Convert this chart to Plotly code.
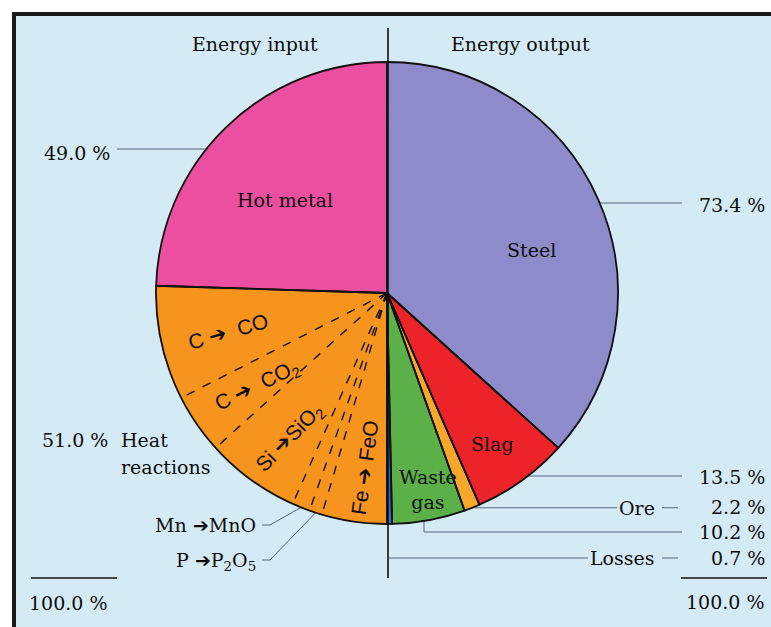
import math
import plotly.graph_objects as go

# ---- data -------------------------------------------------------------
output_labels = ["Steel", "Slag", "Ore", "Waste gas", "Losses"]
output_pct = [73.4, 13.5, 2.2, 10.2, 0.7]

reaction_labels = ["Fe → FeO", "P → P2O5", "Mn → MnO", "Si → SiO2", "C → CO2", "C → CO"]
reaction_pct = [9.1, 1.8, 2.5, 13.2, 8.4, 16.0]

hot_metal_label = "Hot metal"
hot_metal_pct = 49.0

# ---- styling ----------------------------------------------------------
W, H = 771, 627
CX, CY, R = 387, 293, 231          # pie centre and radius in pixels

output_colors = ["#8e8bcb", "#ec2328", "#f8a72a", "#5bb048", "#2f6ed8"]
reaction_color = "#f7941e"
hot_metal_color = "#ec4f9f"
bg_color = "#d4ebf5"
leader_color = "#56657c"

SERIF = "DejaVu Serif, Liberation Serif, serif"
SANS = "Liberation Sans, Arial, sans-serif"

labels_all = output_labels + reaction_labels + [hot_metal_label]
values_all = output_pct + reaction_pct + [hot_metal_pct]
colors_all = output_colors + [reaction_color] * len(reaction_pct) + [hot_metal_color]
TOTAL = sum(values_all)

heat_total = sum(reaction_pct)
output_total = sum(output_pct)
input_total = heat_total + hot_metal_pct

pie_domain = dict(x=[(CX - R) / W, (CX + R) / W],
                  y=[1 - (CY + R) / H, 1 - (CY - R) / H])


def point_at(cum, r=R):
    """Pixel position on the pie at a cumulative value (clockwise from 12 o'clock)."""
    t = math.radians(cum / TOTAL * 360.0)
    return CX + r * math.sin(t), CY - r * math.cos(t)


def arc_x(y, side):
    return CX + side * math.sqrt(R * R - (CY - y) ** 2)


fig = go.Figure()

# filled slices (outline in the slice colour so neighbouring reactions merge)
fig.add_trace(go.Pie(
    labels=labels_all, values=values_all, sort=False,
    direction="clockwise", rotation=0,
    marker=dict(colors=colors_all, line=dict(color=colors_all, width=1)),
    textinfo="none", hoverinfo="label+value", domain=pie_domain,
    showlegend=False,
))

# black outlines of the main groups
group_labels = output_labels + ["Heat reactions", hot_metal_label]
group_values = output_pct + [heat_total, hot_metal_pct]
fig.add_trace(go.Pie(
    labels=group_labels, values=group_values, sort=False,
    direction="clockwise", rotation=0,
    marker=dict(colors=["rgba(0,0,0,0)"] * len(group_values),
                line=dict(color="#111111", width=1.8)),
    textinfo="none", hoverinfo="skip", domain=pie_domain,
    showlegend=False,
))

shapes = []
# frame and background
shapes.append(dict(type="rect", xref="x", yref="y", x0=14, y0=14, x1=W + 10, y1=H + 10,
                   fillcolor=bg_color, line=dict(color="#1a1a1a", width=4), layer="below"))
# input/output divider
shapes.append(dict(type="line", xref="x", yref="y", x0=CX + 1, y0=28, x1=CX + 1, y1=578,
                   line=dict(color="#111111", width=1.6), layer="above"))
# dashed separators between the heat reactions
cum = output_total
for v in reaction_pct[:-1]:
    cum += v
    px, py = point_at(cum)
    shapes.append(dict(type="line", xref="x", yref="y", x0=CX, y0=CY, x1=px, y1=py,
                       line=dict(color="#111111", width=1.4, dash="dash"), layer="above"))
# total rules
shapes.append(dict(type="line", xref="x", yref="y", x0=31, y0=578, x1=117, y1=578,
                   line=dict(color="#111111", width=1.6)))
shapes.append(dict(type="line", xref="x", yref="y", x0=681, y0=578, x1=767, y1=578,
                   line=dict(color="#111111", width=1.6)))


def leader(xs, ys):
    fig.add_trace(go.Scatter(x=xs, y=ys, mode="lines", hoverinfo="skip",
                             line=dict(color=leader_color, width=1), showlegend=False))


# cumulative mid-points of slices
def mid_of(index):
    return sum(values_all[:index]) + values_all[index] / 2


# left leaders
leader([117, arc_x(149, -1)], [149, 149])
mn_x, mn_y = point_at(mid_of(len(output_pct) + 2))
leader([262, 270, mn_x], [525, 525, mn_y])
p_x, p_y = point_at(mid_of(len(output_pct) + 1))
leader([262, 270, p_x], [560, 560, p_y])

# right leaders
leader([arc_x(203, 1), 682], [203, 203])
leader([arc_x(476, 1), 682], [476, 476])
ore_x, ore_y = point_at(mid_of(2))
leader([ore_x, 617], [ore_y, ore_y])
leader([662, 678], [ore_y, ore_y])
wg_x = 424
leader([wg_x, wg_x, 682], [CY + math.sqrt(R * R - (wg_x - CX) ** 2), 532, 532])
leader([CX + 2, 588], [558, 558])
leader([662, 678], [558, 558])

ann = []


def text(x, y, s, size=19, xanchor="center", font=SERIF, angle=0):
    ann.append(dict(x=x, y=y, xref="x", yref="y", text=s, showarrow=False,
                    xanchor=xanchor, yanchor="middle", textangle=angle,
                    font=dict(family=font, size=size, color="#0d0d0d")))


def pct(v):
    return f"{v:.1f} %"


# headings
text(255, 44, "Energy input")
text(520, 44, "Energy output")

# left side labels
text(112, 153, pct(hot_metal_pct), xanchor="right")
text(110, 440, pct(heat_total), xanchor="right")
text(119, 440, "Heat", xanchor="left")
text(119, 467, "reactions", xanchor="left")
text(258, 525, "Mn ➔MnO", xanchor="right")
text(258, 561, "P ➔P<sub>2</sub>O<sub>5</sub>", xanchor="right")
text(110, 603, pct(input_total), xanchor="right")

# right side labels
text(767, 205, pct(output_pct[0]), xanchor="right")
text(767, 477, pct(output_pct[1]), xanchor="right")
text(657, 508, "Ore", xanchor="right")
text(767, 507, pct(output_pct[2]), xanchor="right")
text(767, 532, pct(output_pct[3]), xanchor="right")
text(657, 558, "Losses", xanchor="right")
text(767, 558, pct(output_pct[4]), xanchor="right")
text(767, 602, pct(output_total), xanchor="right")

# slice labels
text(285, 200, hot_metal_label)
text(531, 250, "Steel")
text(492, 444, "Slag")
text(428, 489, "Waste<br>gas")

# heat reaction labels along the wedges
text(228, 331, "C ➔  CO", size=21, font=SANS, angle=-16)
text(257, 386, "C ➔  CO<sub>2</sub>", size=21, font=SANS, angle=-26)
text(290, 438, "Si ➔SiO<sub>2</sub>", size=21, font=SANS, angle=-46)
text(364, 468, "Fe ➔ FeO", size=21, font=SANS, angle=-82)

fig.update_layout(
    width=W, height=H,
    margin=dict(l=0, r=0, t=0, b=0, pad=0),
    paper_bgcolor="white", plot_bgcolor="rgba(0,0,0,0)",
    xaxis=dict(range=[0, W], visible=False, fixedrange=True),
    yaxis=dict(range=[H, 0], visible=False, fixedrange=True),
    shapes=shapes, annotations=ann, showlegend=False,
)

fig.write_html("out.html")
